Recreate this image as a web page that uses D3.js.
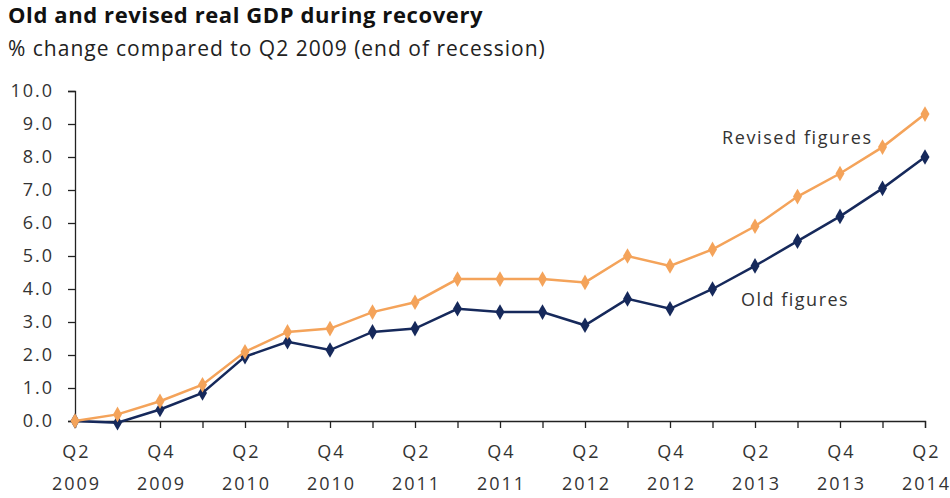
<!DOCTYPE html>
<html>
<head>
<meta charset="utf-8">
<script src="https://cdn.jsdelivr.net/npm/d3@7"></script>
<style>
  body { margin: 0; background: #fff; }
  svg text { font-family: "Open Sans", "Noto Sans", sans-serif; fill: #222; }
</style>
</head>
<body>
<div id="chart"></div>
<script>
const quarters = ["Q2 2009", "Q3 2009", "Q4 2009", "Q1 2010", "Q2 2010", "Q3 2010", "Q4 2010",
  "Q1 2011", "Q2 2011", "Q3 2011", "Q4 2011", "Q1 2012", "Q2 2012", "Q3 2012", "Q4 2012",
  "Q1 2013", "Q2 2013", "Q3 2013", "Q4 2013", "Q1 2014", "Q2 2014"];
const revised = [0, 0.2, 0.6, 1.1, 2.1, 2.7, 2.8, 3.3, 3.6, 4.3, 4.3, 4.3, 4.2, 5.0, 4.7, 5.2, 5.9, 6.8, 7.5, 8.3, 9.3];
const old = [0, -0.05, 0.35, 0.85, 1.95, 2.4, 2.15, 2.7, 2.8, 3.4, 3.3, 3.3, 2.9, 3.7, 3.4, 4.0, 4.7, 5.45, 6.2, 7.05, 8.0];
const yTicks = [0, 1, 2, 3, 4, 5, 6, 7, 8, 9, 10];

const width = 950, height = 498;
const margin = { top: 91, right: 25, bottom: 77, left: 75 };

const svg = d3.select("#chart").append("svg")
  .attr("width", width)
  .attr("height", height);

svg.append("text")
  .attr("x", 8).attr("y", 23)
  .attr("font-size", 22).attr("font-weight", 700)
  .attr("letter-spacing", 0.6)
  .style("fill", "#111")
  .text("Old and revised real GDP during recovery");

svg.append("text")
  .attr("x", 8).attr("y", 56)
  .attr("font-size", 21)
  .attr("letter-spacing", 1)
  .text("% change compared to Q2 2009 (end of recession)");

const x = d3.scalePoint()
  .domain(quarters)
  .range([margin.left, width - margin.right]);

const y = d3.scaleLinear()
  .domain([0, 10])
  .range([height - margin.bottom, margin.top]);

// y axis
const yAxis = svg.append("g")
  .attr("transform", `translate(${margin.left},0)`)
  .call(d3.axisLeft(y).tickValues(yTicks).tickFormat(d3.format(".1f")).tickSize(7).tickPadding(14));
yAxis.selectAll("text")
  .attr("font-size", 18)
  .attr("letter-spacing", 2)
  .style("fill", "#333");
yAxis.select(".domain").attr("stroke", "#222").attr("stroke-width", 1.3);
yAxis.selectAll(".tick line").attr("stroke", "#222").attr("stroke-width", 1.3);

// x axis
const xAxis = svg.append("g")
  .attr("transform", `translate(0,${y(0)})`)
  .call(d3.axisBottom(x).tickSize(7).tickFormat(""));
xAxis.select(".domain").attr("stroke", "#222").attr("stroke-width", 1.3);
xAxis.selectAll(".tick line").attr("stroke", "#222").attr("stroke-width", 1.3);
xAxis.selectAll(".tick")
  .filter((d, i) => i % 2 === 0)
  .each(function (d) {
    const parts = d.split(" ");
    const t = d3.select(this).append("text")
      .attr("text-anchor", "middle")
      .attr("font-size", 18)
      .attr("letter-spacing", 2)
      .style("fill", "#333");
    t.append("tspan").attr("x", 1).attr("y", 37).text(parts[0]);
    t.append("tspan").attr("x", 1).attr("y", 69).text(parts[1]);
  });

const series = [
  { name: "Revised figures", values: revised, color: "#F4A35A" },
  { name: "Old figures", values: old, color: "#16295B" }
];

const line = d3.line()
  .x((d, i) => x(quarters[i]))
  .y((d) => y(d));

const diamond = d3.symbol().type(d3.symbolDiamond).size(70);

series.slice().reverse().forEach((s) => {
  svg.append("path")
    .datum(s.values)
    .attr("fill", "none")
    .attr("stroke", s.color)
    .attr("stroke-width", 2.5)
    .attr("d", line);
  svg.append("g").selectAll("path")
    .data(s.values)
    .join("path")
    .attr("transform", (d, i) => `translate(${x(quarters[i])},${y(d)})`)
    .attr("d", diamond)
    .attr("fill", s.color);
});

svg.append("text")
  .attr("x", 722).attr("y", 144)
  .attr("font-size", 18)
  .attr("letter-spacing", 1.6)
  .style("fill", "#333")
  .text("Revised figures");

svg.append("text")
  .attr("x", 741).attr("y", 306)
  .attr("font-size", 18)
  .attr("letter-spacing", 1.5)
  .style("fill", "#333")
  .text("Old figures");
</script>
</body>
</html>
